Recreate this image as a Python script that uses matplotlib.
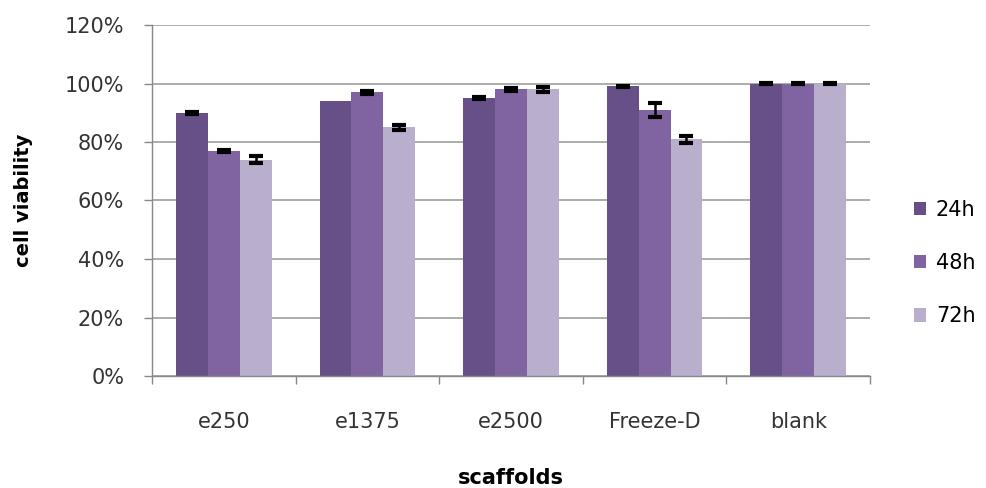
import matplotlib
matplotlib.use("Agg")
import matplotlib.pyplot as plt
import numpy as np
from matplotlib.ticker import FuncFormatter, FixedLocator

categories = ["e250", "e1375", "e2500", "Freeze-D", "blank"]
series_names = ["24h", "48h", "72h"]
v24 = [90, 94, 95, 99, 100]
v48 = [77, 97, 98, 91, 100]
v72 = [74, 85, 98, 81, 100]
e24 = [0.3, 0.0, 0.3, 0.3, 0.2]
e48 = [0.3, 0.5, 0.4, 2.5, 0.2]
e72 = [1.2, 0.8, 0.9, 1.2, 0.2]
colors = ["#674F87", "#8064A2", "#B9AFCC"]

plt.rcParams['font.family'] = ['DejaVu Sans']

fig = plt.figure(figsize=(9.86, 4.88), dpi=100)
ax = fig.add_axes([152/986, 112/488, (870-152)/986, (376-25)/488])

x = np.arange(len(categories))
w = 0.222
for i, (vals, errs) in enumerate([(v24, e24), (v48, e48), (v72, e72)]):
    pos = x + (i - 1) * w
    ax.bar(pos, vals, width=w, color=colors[i], label=series_names[i], zorder=2)
    for p, v, e in zip(pos, vals, errs):
        if e > 0:
            ax.errorbar(p, v, yerr=e, fmt='none', ecolor='black', elinewidth=1.8,
                        capsize=5, capthick=3, zorder=3)

ax.set_xlim(-0.5, len(categories) - 0.5)
ax.set_ylim(0, 120)
ax.set_yticks(np.arange(0, 121, 20))
ax.yaxis.set_major_formatter(FuncFormatter(lambda v, p: f"{int(v)}%"))
ax.yaxis.grid(True, color="#A6A6A6", linewidth=1.3, zorder=0)
ax.set_axisbelow(True)

ax.set_xticks(x)
ax.set_xticklabels(categories)
ax.xaxis.set_minor_locator(FixedLocator(np.arange(-0.5, len(categories), 1.0)))
ax.tick_params(axis='x', which='major', length=0, pad=26, labelsize=15, colors='#333333')
ax.tick_params(axis='x', which='minor', length=6, width=1, color='#888888', direction='out')
ax.tick_params(axis='y', length=6, width=1, color='#888888', pad=14, labelsize=15, labelcolor='#333333')

for s in ['top', 'right']:
    ax.spines[s].set_visible(False)
for s in ['left', 'bottom']:
    ax.spines[s].set_color('#888888')
    ax.spines[s].set_linewidth(1)

ax.set_ylabel("cell viability", fontsize=14, fontweight='bold')
ax.yaxis.set_label_coords(-0.166, 0.5)
fig.text(511/986, 1 - 478/488, "scaffolds", ha='center', va='center', fontsize=15, fontweight='bold')

leg = ax.legend(loc='center left', bbox_to_anchor=(1.035, 0.322), frameon=False,
                fontsize=15, handlelength=0.6, handleheight=0.6, labelspacing=1.6,
                handletextpad=0.45)

fig.savefig("out.png", dpi=100)
